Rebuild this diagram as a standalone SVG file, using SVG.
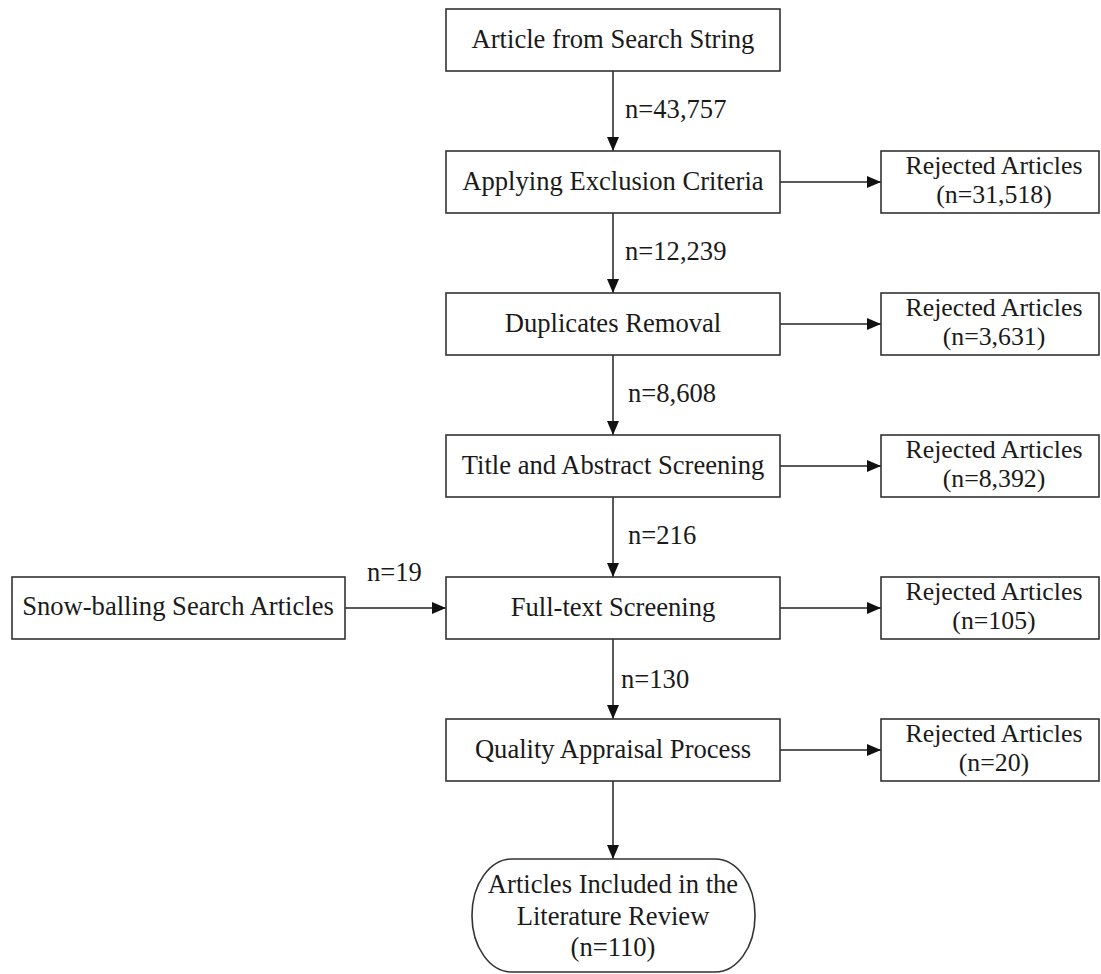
<svg xmlns="http://www.w3.org/2000/svg" width="1101" height="974" viewBox="0 0 1101 974">
  <defs>
    <marker id="arrow" viewBox="0 0 14 14" refX="14" refY="7" markerWidth="14" markerHeight="14" markerUnits="userSpaceOnUse" orient="auto">
      <path d="M0,1 L14,7 L0,13 Z" fill="#111"/>
    </marker>
    <style>
      .box { fill: #fff; stroke: #333; stroke-width: 1.6; }
      .lbl { font-family: "Liberation Serif", "Times New Roman", serif; font-size: 26.6px; fill: #1a1a1a; }
      .rej { font-size: 25.8px; }
      .mid { text-anchor: middle; }
      .edge { stroke: #222; stroke-width: 1.5; fill: none; marker-end: url(#arrow); }
    </style>
  </defs>
  <rect width="1101" height="974" fill="#fff"/>

  <!-- connectors -->
  <g id="connectors">
    <line class="edge" x1="613" y1="71" x2="613" y2="151"/>
    <line class="edge" x1="613" y1="213" x2="613" y2="293"/>
    <line class="edge" x1="613" y1="355" x2="613" y2="435"/>
    <line class="edge" x1="613" y1="497" x2="613" y2="577"/>
    <line class="edge" x1="613" y1="639" x2="613" y2="719"/>
    <line class="edge" x1="613" y1="781" x2="613" y2="859"/>
    <line class="edge" x1="780" y1="182" x2="881" y2="182"/>
    <line class="edge" x1="780" y1="324" x2="881" y2="324"/>
    <line class="edge" x1="780" y1="466" x2="881" y2="466"/>
    <line class="edge" x1="780" y1="608" x2="881" y2="608"/>
    <line class="edge" x1="780" y1="750" x2="881" y2="750"/>
    <line class="edge" x1="345" y1="608" x2="446" y2="608"/>
    <text class="lbl" x="625" y="118">n=43,757</text>
    <text class="lbl" x="625" y="260">n=12,239</text>
    <text class="lbl" x="628" y="402">n=8,608</text>
    <text class="lbl" x="628" y="544">n=216</text>
    <text class="lbl" x="621" y="688">n=130</text>
    <text class="lbl" x="367" y="581">n=19</text>
  </g>

  <!-- main flow -->
  <g id="search">
    <rect class="box" x="446" y="9" width="334" height="62"/>
    <text class="lbl mid" x="613" y="48">Article from Search String</text>
  </g>
  <g id="exclusion">
    <rect class="box" x="446" y="151" width="334" height="62"/>
    <text class="lbl mid" x="613" y="190">Applying Exclusion Criteria</text>
  </g>
  <g id="duplicates">
    <rect class="box" x="446" y="293" width="334" height="62"/>
    <text class="lbl mid" x="613" y="332">Duplicates Removal</text>
  </g>
  <g id="title-abstract">
    <rect class="box" x="446" y="435" width="334" height="62"/>
    <text class="lbl mid" x="613" y="474">Title and Abstract Screening</text>
  </g>
  <g id="full-text">
    <rect class="box" x="446" y="577" width="334" height="62"/>
    <text class="lbl mid" x="613" y="616">Full-text Screening</text>
  </g>
  <g id="quality">
    <rect class="box" x="446" y="719" width="334" height="62"/>
    <text class="lbl mid" x="613" y="758">Quality Appraisal Process</text>
  </g>
  <g id="snowball">
    <rect class="box" x="12" y="577" width="333" height="62"/>
    <text class="lbl mid" x="178" y="615">Snow-balling Search Articles</text>
  </g>
  <g id="included">
    <rect class="box" x="472" y="859" width="283" height="113" rx="40" ry="56"/>
    <text class="lbl mid" x="613" y="893">Articles Included in the</text>
    <text class="lbl mid" x="613" y="925">Literature Review</text>
    <text class="lbl mid" x="613" y="956">(n=110)</text>
  </g>

  <!-- rejected counts -->
  <g id="rejected-1">
    <rect class="box" x="881" y="151" width="218" height="62"/>
    <text class="lbl rej mid" x="994" y="174">Rejected Articles</text>
    <text class="lbl rej mid" x="994" y="203">(n=31,518)</text>
  </g>
  <g id="rejected-2">
    <rect class="box" x="881" y="293" width="218" height="62"/>
    <text class="lbl rej mid" x="994" y="316">Rejected Articles</text>
    <text class="lbl rej mid" x="994" y="345">(n=3,631)</text>
  </g>
  <g id="rejected-3">
    <rect class="box" x="881" y="435" width="218" height="62"/>
    <text class="lbl rej mid" x="994" y="458">Rejected Articles</text>
    <text class="lbl rej mid" x="994" y="487">(n=8,392)</text>
  </g>
  <g id="rejected-4">
    <rect class="box" x="881" y="577" width="218" height="62"/>
    <text class="lbl rej mid" x="994" y="600">Rejected Articles</text>
    <text class="lbl rej mid" x="994" y="629">(n=105)</text>
  </g>
  <g id="rejected-5">
    <rect class="box" x="881" y="719" width="218" height="62"/>
    <text class="lbl rej mid" x="994" y="742">Rejected Articles</text>
    <text class="lbl rej mid" x="994" y="771">(n=20)</text>
  </g>
</svg>
